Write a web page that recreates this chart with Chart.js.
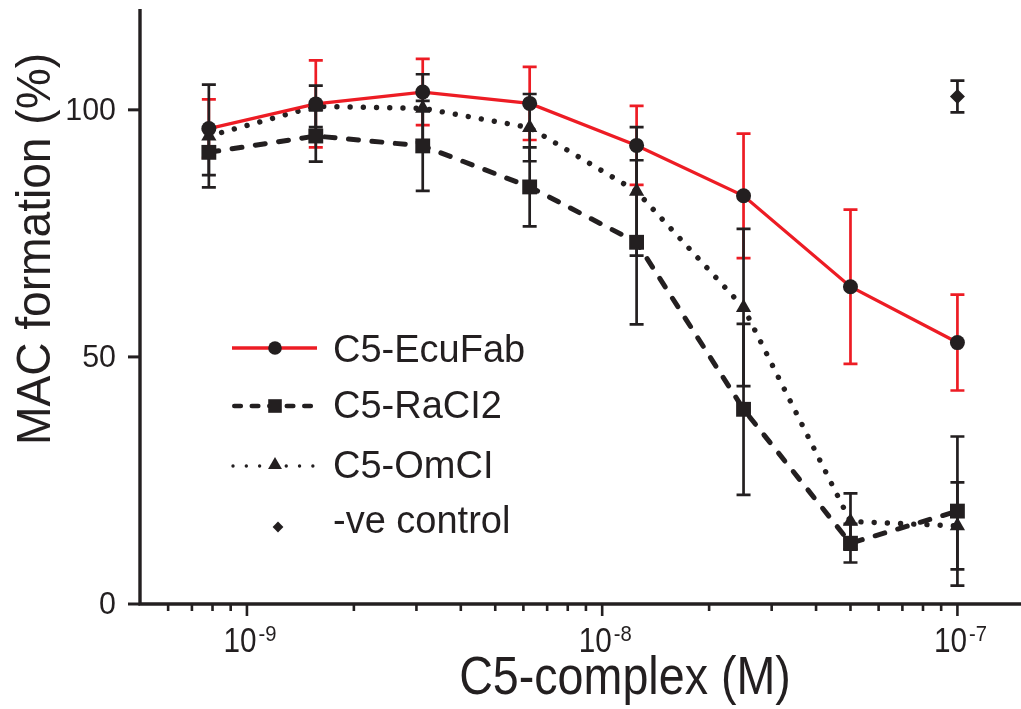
<!DOCTYPE html>
<html><head><meta charset="utf-8">
<script src="https://cdn.jsdelivr.net/npm/chart.js@4/dist/chart.umd.min.js"></script>
<style>html,body{margin:0;padding:0;background:#fff;overflow:hidden}canvas{display:block}</style>
</head><body>
<canvas id="c" width="1021" height="709"></canvas>
<script>
// ---------- data ----------
const concentrations = [7.8125e-10, 1.5625e-9, 3.125e-9, 6.25e-9, 1.25e-8, 2.5e-8, 5e-8, 1e-7];
const ecuFabMean = [96.2, 101.2, 103.6, 101.3, 92.8, 82.6, 64.2, 52.9];
const ecuFabErr  = [5.9, 8.8, 6.7, 7.4, 8.0, 12.6, 15.6, 9.7];
const raci2Mean  = [91.4, 94.7, 92.7, 84.4, 73.2, 39.4, 12.3, 18.8];
const raci2Err   = [4.6, 5.2, 9.1, 8.0, 16.6, 17.3, 3.9, 15.1];
const omciMean   = [94.7, 100.7, 100.3, 96.4, 83.5, 60.0, 16.7, 15.8];
const omciErr    = [10.4, 4.2, 6.9, 6.8, 13.0, 15.9, 5.7, 8.8];
const controlX    = [1e-7];
const controlMean = [102.7];
const controlErr  = [3.2];
const seriesLabels = ['C5-EcuFab', 'C5-RaCI2', 'C5-OmCI', '-ve control'];
const yTickValues = [0, 50, 100];
const xMajorExponents = [-9, -8, -7];
const xTitle = 'C5-complex (M)';
const yTitle = 'MAC formation (%)';

// ---------- styles ----------
const INK = '#231F20', RED = '#ED1C24';
const FONT = '"Liberation Sans", Arial, Helvetica, sans-serif';

function pts(xs, ys) { return xs.map((x, i) => ({x: x, y: ys[i]})); }

const errorSets = [
  {x: concentrations, mean: ecuFabMean, err: ecuFabErr, color: RED},
  {x: concentrations, mean: omciMean, err: omciErr, color: INK},
  {x: concentrations, mean: raci2Mean, err: raci2Err, color: INK},
  {x: controlX, mean: controlMean, err: controlErr, color: INK}
];

function condensedText(ctx, text, x, y, size, sx, align) {
  ctx.save();
  ctx.font = size + 'px ' + FONT;
  const w = ctx.measureText(text).width * sx;
  let left = x;
  if (align === 'center') left = x - w / 2;
  else if (align === 'right') left = x - w;
  ctx.translate(left, y);
  ctx.scale(sx, 1);
  ctx.textAlign = 'left';
  ctx.fillText(text, 0, 0);
  ctx.restore();
  return w;
}

function marker(ctx, style, x, y, r) {
  ctx.beginPath();
  if (style === 'circle') ctx.arc(x, y, r, 0, Math.PI * 2);
  else if (style === 'rect') ctx.rect(x - r, y - r, 2 * r, 2 * r);
  else if (style === 'triangle') {
    ctx.moveTo(x, y - r); ctx.lineTo(x + r * 0.866, y + r * 0.5); ctx.lineTo(x - r * 0.866, y + r * 0.5);
  } else if (style === 'rectRot') {
    ctx.moveTo(x, y - r); ctx.lineTo(x + r, y); ctx.lineTo(x, y + r); ctx.lineTo(x - r, y);
  }
  ctx.closePath();
  ctx.fill();
}

const errPlugin = {
  id: 'errbars',
  beforeDatasetsDraw(chart) {
    const ctx = chart.ctx, xs = chart.scales.x, ys = chart.scales.y;
    ctx.save();
    ctx.lineWidth = 2.7;
    ctx.lineCap = 'butt';
    errorSets.forEach(s => {
      ctx.strokeStyle = s.color;
      s.x.forEach((xv, i) => {
        const px = xs.getPixelForValue(xv);
        const top = ys.getPixelForValue(s.mean[i] + s.err[i]);
        const bot = ys.getPixelForValue(s.mean[i] - s.err[i]);
        ctx.beginPath();
        ctx.moveTo(px, top); ctx.lineTo(px, bot);
        ctx.moveTo(px - 7, top); ctx.lineTo(px + 7, top);
        ctx.moveTo(px - 7, bot); ctx.lineTo(px + 7, bot);
        ctx.stroke();
      });
    });
    ctx.restore();
  }
};

const axisPlugin = {
  id: 'axes',
  afterDraw(chart) {
    const ctx = chart.ctx, xs = chart.scales.x, ys = chart.scales.y, a = chart.chartArea;
    ctx.save();
    ctx.strokeStyle = INK; ctx.fillStyle = INK;
    ctx.lineWidth = 3.4; ctx.lineCap = 'butt';
    // axis lines
    ctx.beginPath();
    ctx.moveTo(a.left, a.top - 2); ctx.lineTo(a.left, a.bottom + 1.7);
    ctx.moveTo(a.left - 1.7, a.bottom); ctx.lineTo(chart.width, a.bottom);
    ctx.stroke();
    // y ticks
    ctx.lineWidth = 3;
    ctx.textBaseline = 'middle';
    yTickValues.forEach(v => {
      const py = ys.getPixelForValue(v);
      ctx.beginPath(); ctx.moveTo(a.left - 12, py); ctx.lineTo(a.left, py); ctx.stroke();
      condensedText(ctx, String(v), a.left - 24, py + 1, 32, 0.95, 'right');
    });
    // x ticks (log minor + major)
    ctx.lineWidth = 2.6;
    for (let e = -10; e <= -7; e++) {
      for (let m = 1; m <= 9; m++) {
        const v = m * Math.pow(10, e);
        if (v <= xs.min * 1.0001 || v > xs.max) continue;
        const px = xs.getPixelForValue(v);
        const len = m === 1 ? 12 : 7;
        ctx.beginPath(); ctx.moveTo(px, a.bottom); ctx.lineTo(px, a.bottom + len); ctx.stroke();
      }
    }
    // x labels 10^n
    ctx.textBaseline = 'alphabetic';
    xMajorExponents.forEach(e => {
      const px = xs.getPixelForValue(Math.pow(10, e));
      ctx.font = '35px ' + FONT;
      const wBase = ctx.measureText('10').width * 0.85;
      ctx.font = '22px ' + FONT;
      const sup = String(e);
      const wSup = ctx.measureText(sup).width * 0.92;
      const total = wBase + 2 + wSup;
      const left = px + 3 - total / 2;
      condensedText(ctx, '10', left, 652, 35, 0.85, 'left');
      condensedText(ctx, sup, left + wBase + 2, 641, 22, 0.92, 'left');
    });
    // axis titles
    condensedText(ctx, xTitle, 625, 694, 53, 0.88, 'center');
    ctx.save();
    ctx.translate(50, 249);
    ctx.rotate(-Math.PI / 2);
    ctx.font = '49px ' + FONT;
    const wy = ctx.measureText(yTitle).width;
    const sy = 392 / wy;
    ctx.scale(sy, 1);
    ctx.textAlign = 'center';
    ctx.fillText(yTitle, 0, 0);
    ctx.restore();

    // legend
    const rows = [
      {y: 348, base: 362},
      {y: 406, base: 418},
      {y: 466, base: 478},
      {y: 527, base: 533}
    ];
    const x0 = 232, x1 = 317, mx = 275;
    // EcuFab
    ctx.lineCap = 'butt'; ctx.setLineDash([]);
    ctx.strokeStyle = RED; ctx.lineWidth = 3.3;
    ctx.beginPath(); ctx.moveTo(x0, rows[0].y); ctx.lineTo(x1, rows[0].y); ctx.stroke();
    ctx.fillStyle = INK; marker(ctx, 'circle', mx, rows[0].y, 6.8);
    // RaCI2
    ctx.strokeStyle = INK; ctx.lineWidth = 4.6; ctx.lineCap = 'round';
    ctx.setLineDash([6.5, 11]); ctx.lineDashOffset = 0;
    ctx.beginPath(); ctx.moveTo(x0 + 2.3, rows[1].y); ctx.lineTo(x1 - 2, rows[1].y); ctx.stroke();
    ctx.setLineDash([]);
    marker(ctx, 'rect', mx, rows[1].y, 6.8);
    // OmCI
    ctx.lineWidth = 3.4; ctx.lineCap = 'round';
    ctx.setLineDash([0.01, 13.3]);
    ctx.beginPath(); ctx.moveTo(x0 + 1, rows[2].y); ctx.lineTo(x1, rows[2].y); ctx.stroke();
    ctx.setLineDash([]);
    marker(ctx, 'triangle', mx, rows[2].y - 1, 8);
    // control
    marker(ctx, 'rectRot', 278, rows[3].y, 5.4);
    // legend texts
    ctx.fillStyle = INK;
    ctx.font = '38px ' + FONT;
    ctx.textAlign = 'left';
    seriesLabels.forEach((t, i) => ctx.fillText(t, 333, rows[i].base));
    ctx.restore();
  }
};

new Chart(document.getElementById('c'), {
  type: 'line',
  data: {
    datasets: [
      {label: seriesLabels[0], data: pts(concentrations, ecuFabMean), borderColor: RED, borderWidth: 3.3,
       pointStyle: 'circle', pointRadius: 7.5, pointBackgroundColor: INK, pointBorderColor: INK, pointBorderWidth: 0},
      {label: seriesLabels[1], data: pts(concentrations, raci2Mean), borderColor: INK, borderWidth: 5,
       borderDash: [10, 13.5], borderCapStyle: 'round',
       pointStyle: 'rect', pointRadius: 10.5, pointBackgroundColor: INK, pointBorderColor: INK, pointBorderWidth: 0},
      {label: seriesLabels[2], data: pts(concentrations, omciMean), borderColor: INK, borderWidth: 5.4,
       borderDash: [0.01, 13.2], borderCapStyle: 'round',
       pointStyle: 'triangle', pointRadius: 8.8, pointBackgroundColor: INK, pointBorderColor: INK, pointBorderWidth: 0},
      {label: seriesLabels[3], data: pts(controlX, controlMean), showLine: false,
       pointStyle: 'rectRot', pointRadius: 7.5, pointBackgroundColor: INK, pointBorderColor: INK, pointBorderWidth: 0}
    ]
  },
  options: {
    responsive: false,
    animation: false,
    devicePixelRatio: 1,
    layout: {autoPadding: false, padding: {left: 140, right: 0, top: 11, bottom: 105}},
    elements: {line: {tension: 0}},
    scales: {
      x: {type: 'logarithmic', min: 5e-10, max: 1.51e-7, display: false},
      y: {type: 'linear', min: 0, max: 120, display: false}
    },
    plugins: {legend: {display: false}, tooltip: {enabled: false}}
  },
  plugins: [errPlugin, axisPlugin]
});
</script>
</body></html>
